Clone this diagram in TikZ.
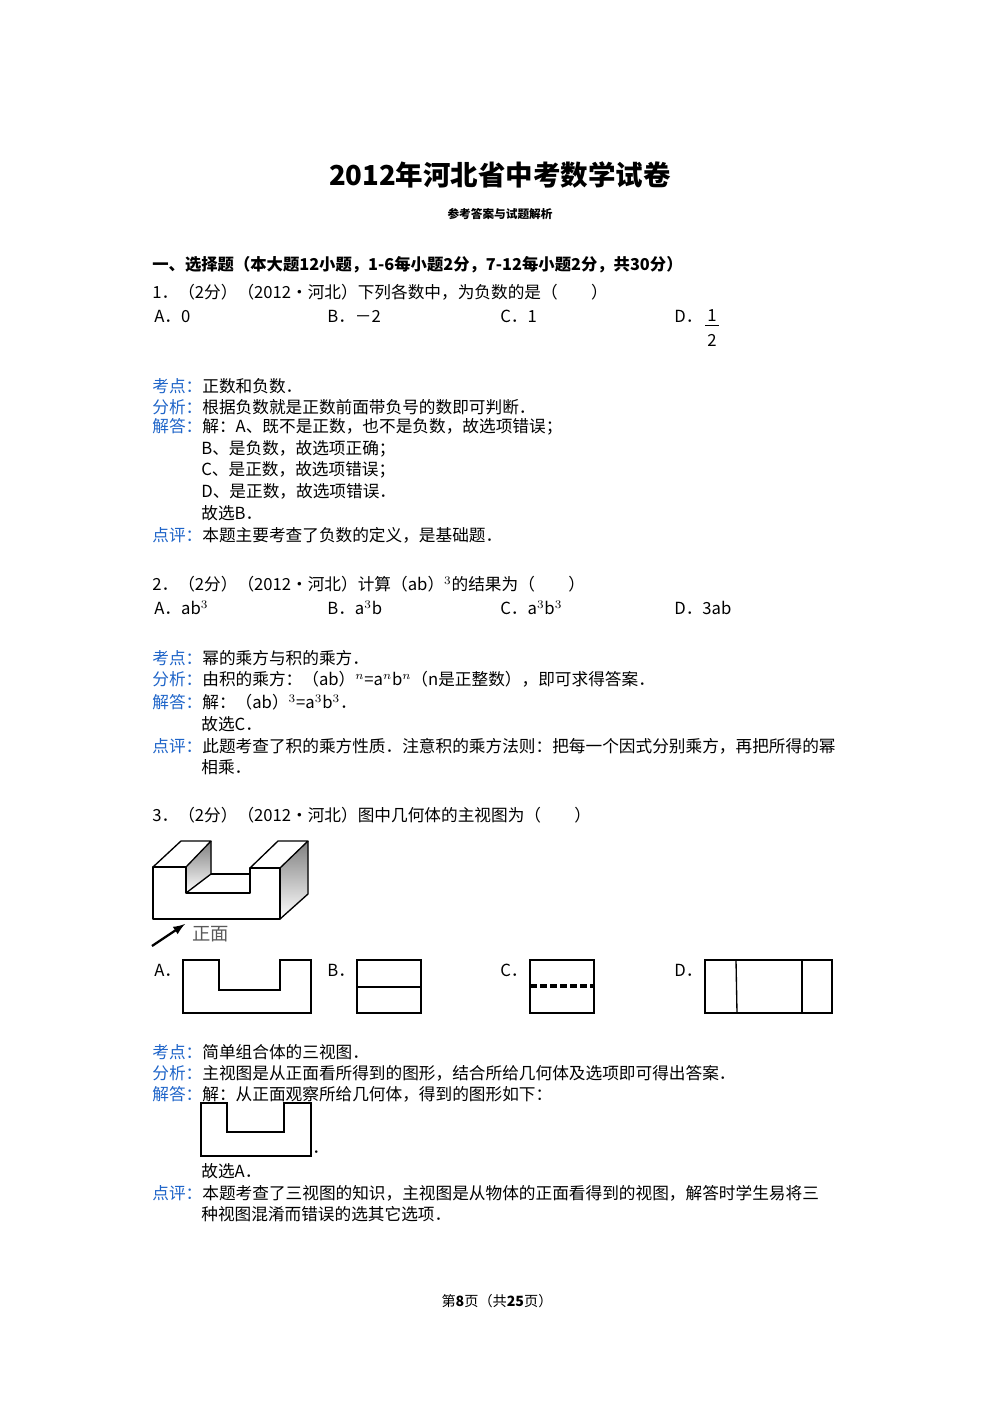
\documentclass[tikz,border=0pt]{standalone}
\usepackage{fontspec}
\setmainfont{Noto Sans CJK SC}
\definecolor{lbl}{RGB}{30,100,200}
\definecolor{shade}{RGB}{205,205,205}
\begin{document}
\begin{tikzpicture}[x=0.6pt,y=-0.6pt,
  t/.style={anchor=west,inner sep=0pt,font=\fontsize{10}{11}\selectfont},
  b/.style={t,font=\fontsize{9.8}{11}\selectfont\bfseries},
  fig/.style={line width=0.8pt}]
\useasboundingbox (0,0) rectangle (1000,1414);
\node[inner sep=0pt,font=\fontsize{16.5}{18}\selectfont\bfseries] (title) at (500,175) {2012年河北省中考数学试卷};
\node[inner sep=0pt,font=\fontsize{7}{8}\selectfont\bfseries] (sub) at (500,214) {参考答案与试题解析};
\node[b] (h) at (152,265) {一、选择题（本大题12小题，1-6每小题2分，7-12每小题2分，共30分）};
\node[t] (q1) at (152,292) {1．（2分）（2012•河北）下列各数中，为负数的是（　　）};
\node[t] (a1) at (154,316) {A．0};
\node[t] (b1) at (327,316) {B．－2};
\node[t] (c1) at (500,316) {C．1};
\node[t] (d1) at (674,316) {D．};
\node[inner sep=0pt,font=\fontsize{10}{11}\selectfont] (n1) at (712,316) {1};
\node[inner sep=0pt,font=\fontsize{10}{11}\selectfont] (m1) at (712,340) {2};
\draw (n1.south west) ++(-2,3) -- ++(14,0);
\node[t] (k1) at (152,386) {\textcolor{lbl}{考点：}正数和负数．};
\node[t] (f1) at (152,407) {\textcolor{lbl}{分析：}根据负数就是正数前面带负号的数即可判断．};
\node[t] (j1) at (152,427) {\textcolor{lbl}{解答：}解：A、既不是正数，也不是负数，故选项错误；};
\node[t] (j1b) at (201,449) {B、是负数，故选项正确；};
\node[t] (j1c) at (201,470) {C、是正数，故选项错误；};
\node[t] (j1d) at (201,491) {D、是正数，故选项错误．};
\node[t] (j1e) at (201,513) {故选B．};
\node[t] (p1) at (152,535) {\textcolor{lbl}{点评：}本题主要考查了负数的定义，是基础题．};
\node[t] (q2) at (152,584) {2．（2分）（2012•河北）计算（ab）$^{3}$的结果为（　　）};
\node[t] (a2) at (154,608) {A．ab$^{3}$};
\node[t] (b2) at (327,608) {B．a$^{3}$b};
\node[t] (c2) at (500,608) {C．a$^{3}$b$^{3}$};
\node[t] (d2) at (674,608) {D．3ab};
\node[t] (k2) at (152,658) {\textcolor{lbl}{考点：}幂的乘方与积的乘方．};
\node[t] (f2) at (152,679) {\textcolor{lbl}{分析：}由积的乘方：（ab）$^{n}$=a$^{n}$b$^{n}$（n是正整数），即可求得答案．};
\node[t] (j2) at (152,702) {\textcolor{lbl}{解答：}解：（ab）$^{3}$=a$^{3}$b$^{3}$．};
\node[t] (j2b) at (201,724) {故选C．};
\node[t] (p2) at (152,746) {\textcolor{lbl}{点评：}此题考查了积的乘方性质．注意积的乘方法则：把每一个因式分别乘方，再把所得的幂};
\node[t] (p2b) at (201,767) {相乘．};
\node[t] (q3) at (152,815) {3．（2分）（2012•河北）图中几何体的主视图为（　　）};
% 3D figure
\fill[shade] (186,867) -- (211,841) -- (211,874) -- (186,893) -- cycle;
\fill[shade] (280,868) -- (308,841) -- (308,894) -- (280,919) -- cycle;
\draw[fig,line join=round] (153,867) -- (153,919) -- (280,919) -- (280,868) -- (250,868) -- (250,893) -- (186,893) -- (186,867) -- cycle;
\draw[fig,line join=round] (153,867) -- (181,841) -- (211,841) -- (186,867);
\draw[fig] (211,841) -- (211,874) -- (186,893);
\draw[fig] (211,874) -- (250,874);
\draw[fig,line join=round] (250,868) -- (278,841) -- (308,841) -- (280,868);
\draw[fig] (308,841) -- (308,894) -- (280,919);
\coordinate (ar0) at (152,946); \coordinate (ar1) at (185,924);
\draw[line width=1.4pt,-latex] (ar0) -- (ar1);
\node[t,text=black!65,font=\fontsize{11}{12}\selectfont] (zm) at (192,934) {正面};
% options
\node[t] (a3) at (154,970) {A．};
\draw[fig] (183,960) -- (219,960) -- (219,990) -- (280,990) -- (280,960) -- (311,960) -- (311,1013) -- (183,1013) -- cycle;
\node[t] (b3) at (327,970) {B．};
\draw[fig] (357,960) rectangle (421,1013); \draw[line width=1.2pt] (357,987) -- (421,987);
\node[t] (c3) at (500,970) {C．};
\draw[fig] (530,960) rectangle (594,1013); \draw[line width=2pt,dash pattern=on 4pt off 2pt] (530,986) -- (594,986);
\node[t] (d3) at (674,970) {D．};
\draw[fig] (705,960) rectangle (832,1013); \draw[fig] (736,960) -- (737,1013); \draw[fig] (802,960) -- (802,1013);
\node[t] (k3) at (152,1052) {\textcolor{lbl}{考点：}简单组合体的三视图．};
\node[t] (f3) at (152,1073) {\textcolor{lbl}{分析：}主视图是从正面看所得到的图形，结合所给几何体及选项即可得出答案．};
\node[t] (j3) at (152,1094) {\textcolor{lbl}{解答：}解：从正面观察所给几何体，得到的图形如下：};
\draw[fig] (201,1103) -- (227,1103) -- (227,1132) -- (284,1132) -- (284,1103) -- (311,1103) -- (311,1156) -- (201,1156) -- cycle;
\node[t] (dot) at (312,1152) {．};
\node[t] (j3b) at (201,1171) {故选A．};
\node[t] (p3) at (152,1193) {\textcolor{lbl}{点评：}本题考查了三视图的知识，主视图是从物体的正面看得到的视图，解答时学生易将三};
\node[t] (p3b) at (201,1214) {种视图混淆而错误的选其它选项．};
\node[inner sep=0pt,font=\fontsize{8.5}{10}\selectfont] (pg) at (497,1301) {第\textbf{8}页（共\textbf{25}页）};
\end{tikzpicture}
\end{document}
